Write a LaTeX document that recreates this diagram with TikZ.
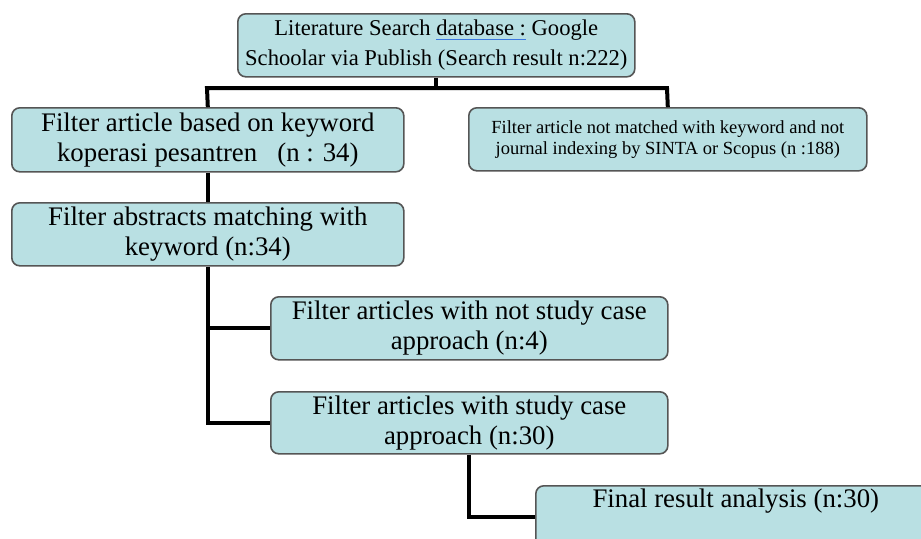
\documentclass[tikz,border=0pt]{standalone}
\usepackage{fontspec}
\setmainfont{Liberation Serif}
\usetikzlibrary{positioning}

\definecolor{boxfill}{RGB}{185,224,227}
\definecolor{boxline}{RGB}{85,85,85}
\definecolor{linkblue}{RGB}{60,120,225}
\newcommand\blueuline[1]{\setbox0\hbox{#1}\rlap{\textcolor{linkblue}{\rule[-0.4ex]{\wd0}{0.6pt}}}\box0\relax}

\begin{document}
\begin{tikzpicture}[x=0.5pt,y=-0.5pt,
    stage/.style={draw=boxline, line width=0.8pt, fill=boxfill, rounded corners=4pt,
      anchor=north west, align=center, inner sep=0pt, minimum height=31.5pt,
      font=\fontsize{13.4}{15}\selectfont},
    side/.style={stage, font=\fontsize{9.25}{10.5}\selectfont},
    link/.style={line width=2pt, black}]
        \clip (0,0) rectangle (921,538);
        \fill[white] (0,0) rectangle (921,538);

        % Boxes
        \node[stage, minimum width=198.5pt, font=\fontsize{11.3}{15}\selectfont] (search) at (237,13)
          {Literature Search \blueuline{database :} Google\\Schoolar via Publish (Search result n:222)};
        \node[stage, minimum width=196pt, minimum height=32pt] (keyword) at (11,107)
          {Filter article based on keyword\\koperasi pesantren~~~(n : 34)};
        \node[side, minimum width=199pt] (excluded) at (468,107)
          {Filter article not matched with keyword and not\\journal indexing by SINTA or Scopus (n :188)};
        \node[stage, minimum width=196pt] (abstract) at (11,202)
          {Filter abstracts matching with\\keyword (n:34)};
        \node[stage, minimum width=198.5pt] (nocase) at (270,296)
          {Filter articles with not study case\\approach (n:4)};
        \node[stage, minimum width=198.5pt, minimum height=31pt] (studycase) at (270,391)
          {Filter articles with study case\\approach (n:30)};
        \node[stage, minimum width=200pt] (final) at (535,485)
          {Final result analysis (n:30)\\\strut};

        % Connectors
        \coordinate (busL) at (207,88);
        \coordinate (busR) at (667,88);
        \draw[link] (search.south) -- (search.south |- busL);
        \draw[link] (keyword.north) -- (busL) -- (busR) -- (excluded.north);
        \draw[link] (keyword.south) -- (abstract.north);
        \draw[link] (abstract.south) |- (studycase.west);
        \draw[link] (abstract.south |- nocase.west) -- (nocase.west);
        \draw[link] (studycase.south) |- (final.west);
      \end{tikzpicture}
\end{document}
